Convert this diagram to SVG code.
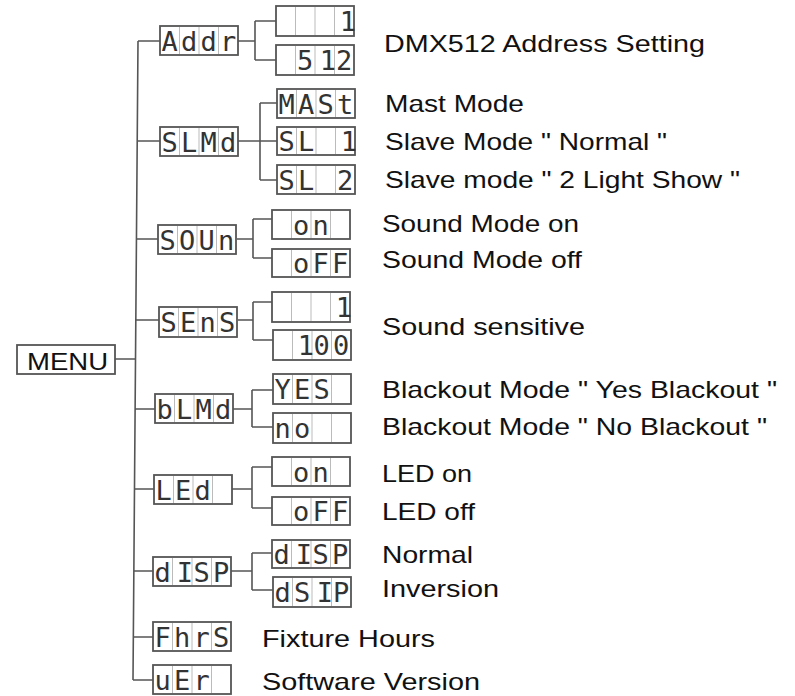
<svg xmlns="http://www.w3.org/2000/svg" width="795" height="696" viewBox="0 0 795 696">
<style>
.box{fill:#fff;stroke:#555;stroke-width:1.8}
.div{fill:none;stroke:#bbb;stroke-width:1}
.seg{font-family:"DejaVu Sans Mono",monospace;font-size:27px;fill:#333;text-anchor:middle}
.lbl{font-family:"Liberation Sans",Arial,sans-serif;font-size:24px;fill:#111}
.con{fill:none;stroke:#555;stroke-width:1.6}
</style>
<rect width="795" height="696" fill="#fff"/>
<g id="connectors" class="con">
<path d="M138 41L133 680M115 359H135.5M138 41H160M137.2 141H160M136.5 239H158M135.8 320H159M135.1 409H155M134.5 489H154M133.9 571H153M133.3 637H153M133 680H153"/>
<path d="M238 41H255M255 21V60M255 21H276M255 60H276"/>
<path d="M238 141H277M260 103V180M260 103H277M260 180H277"/>
<path d="M237 239H253M253 219V258M253 219H272M253 258H272"/>
<path d="M238 320H253M253 302V340M253 302H272M253 340H273"/>
<path d="M233 409H252M252 390V427M252 390H273M252 427H273"/>
<path d="M232 489H252M252 467V508M252 467H272M252 508H272"/>
<path d="M231 571H252M252 553V590M252 553H272M252 590H273"/>
</g>
<g id="menu"><rect class="box" x="17" y="345" width="98" height="29"/><text class="lbl" x="27" y="370" font-size="25" textLength="81" lengthAdjust="spacingAndGlyphs">MENU</text></g>

<g id="addr"><rect class="box" x="160" y="26" width="78" height="29"/><path class="div" d="M179.5 27v27M199 27v27M218.5 27v27"/><text class="seg" x="169.75 189.25 208.75 228.25" y="50.5">Addr</text></g>
<g id="slmd"><rect class="box" x="160" y="127" width="78" height="29"/><path class="div" d="M179.5 128v27M199 128v27M218.5 128v27"/><text class="seg" x="169.75 189.25 208.75 228.25" y="151.5">SLMd</text></g>
<g id="soun"><rect class="box" x="158" y="225" width="78" height="29"/><path class="div" d="M177.5 226v27M197 226v27M216.5 226v27"/><text class="seg" x="167.75 187.25 206.75 226.25" y="249.5">SOUn</text></g>
<g id="sens"><rect class="box" x="159" y="307" width="78" height="30"/><path class="div" d="M178.5 308v28M198 308v28M217.5 308v28"/><text class="seg" x="168.75 188.25 207.75 227.25" y="332">SEnS</text></g>
<g id="blmd"><rect class="box" x="155" y="394" width="78" height="29"/><path class="div" d="M174.5 395v27M194 395v27M213.5 395v27"/><text class="seg" x="164.75 184.25 203.75 223.25" y="418.5">bLMd</text></g>
<g id="led"><rect class="box" x="154" y="475" width="78" height="29"/><path class="div" d="M173.5 476v27M193 476v27M212.5 476v27"/><text class="seg" x="163.75 183.25 202.75" y="499.5">LEd</text></g>
<g id="disp"><rect class="box" x="153" y="557" width="78" height="29"/><path class="div" d="M172.5 558v27M192 558v27M211.5 558v27"/><text class="seg" x="162.75 185 201.75 221.25" y="581.5">dISP</text></g>
<g id="fhrs"><rect class="box" x="153" y="622" width="78" height="29"/><path class="div" d="M172.5 623v27M192 623v27M211.5 623v27"/><text class="seg" x="162.75 182.25 201.75 221.25" y="646.5">FhrS</text></g>
<g id="uer"><rect class="box" x="153" y="665" width="78" height="29"/><path class="div" d="M172.5 666v27M192 666v27M211.5 666v27"/><text class="seg" x="162.75 182.25 201.75" y="689.5">uEr</text></g>

<g id="addr-1"><rect class="box" x="276" y="6" width="78" height="30"/><path class="div" d="M295.5 7v28M315 7v28M334.5 7v28"/><text class="seg" x="348" y="31">1</text></g>
<g id="addr-512"><rect class="box" x="276" y="45" width="78" height="30"/><path class="div" d="M295.5 46v28M315 46v28M334.5 46v28"/><text class="seg" x="305.25 328 344.25" y="70">512</text></g>
<g id="mast"><rect class="box" x="277" y="89" width="78" height="29"/><path class="div" d="M296.5 90v27M316 90v27M335.5 90v27"/><text class="seg" x="286.75 306.25 325.75 345.25" y="113.5">MASt</text></g>
<g id="sl1"><rect class="box" x="277" y="127" width="78" height="28"/><path class="div" d="M296.5 128v26M316 128v26M335.5 128v26"/><text class="seg" x="286.75 306.25 325.75 349" y="151">SL 1</text></g>
<g id="sl2"><rect class="box" x="277" y="165" width="78" height="29"/><path class="div" d="M296.5 166v27M316 166v27M335.5 166v27"/><text class="seg" x="286.75 306.25 325.75 345.25" y="189.5">SL 2</text></g>
<g id="soun-on"><rect class="box" x="272" y="210" width="78" height="29"/><path class="div" d="M291.5 211v27M311 211v27M330.5 211v27"/><text class="seg" x="301.25 320.75" y="234.5">on</text></g>
<g id="soun-off"><rect class="box" x="272" y="249" width="78" height="28"/><path class="div" d="M291.5 250v26M311 250v26M330.5 250v26"/><text class="seg" x="301.25 320.75 340.25" y="273">oFF</text></g>
<g id="sens-1"><rect class="box" x="272" y="292" width="78" height="30"/><path class="div" d="M291.5 293v28M311 293v28M330.5 293v28"/><text class="seg" x="344" y="317">1</text></g>
<g id="sens-100"><rect class="box" x="273" y="330" width="78" height="30"/><path class="div" d="M292.5 331v28M312 331v28M331.5 331v28"/><text class="seg" x="306 321.75 341.25" y="355">100</text></g>
<g id="yes"><rect class="box" x="273" y="374" width="78" height="30"/><path class="div" d="M292.5 375v28M312 375v28M331.5 375v28"/><text class="seg" x="282.75 302.25 321.75" y="399">YES</text></g>
<g id="no"><rect class="box" x="273" y="413" width="78" height="30"/><path class="div" d="M292.5 414v28M312 414v28M331.5 414v28"/><text class="seg" x="282.75 302.25" y="438">no</text></g>
<g id="led-on"><rect class="box" x="272" y="457" width="78" height="29"/><path class="div" d="M291.5 458v27M311 458v27M330.5 458v27"/><text class="seg" x="301.25 320.75" y="481.5">on</text></g>
<g id="led-off"><rect class="box" x="272" y="497" width="78" height="28"/><path class="div" d="M291.5 498v26M311 498v26M330.5 498v26"/><text class="seg" x="301.25 320.75 340.25" y="521">oFF</text></g>
<g id="disp-normal"><rect class="box" x="272" y="540" width="78" height="28"/><path class="div" d="M291.5 541v26M311 541v26M330.5 541v26"/><text class="seg" x="281.75 304 320.75 340.25" y="564">dISP</text></g>
<g id="disp-inv"><rect class="box" x="273" y="577" width="78" height="30"/><path class="div" d="M292.5 578v28M312 578v28M331.5 578v28"/><text class="seg" x="282.75 302.25 325 341.25" y="602">dSIP</text></g>

<g id="labels">
<text class="lbl" x="384" y="52" textLength="321" lengthAdjust="spacingAndGlyphs">DMX512 Address Setting</text>
<text class="lbl" x="385" y="112" textLength="139" lengthAdjust="spacingAndGlyphs">Mast Mode</text>
<text class="lbl" x="385" y="150" textLength="282" lengthAdjust="spacingAndGlyphs">Slave Mode " Normal "</text>
<text class="lbl" x="385" y="188" textLength="355" lengthAdjust="spacingAndGlyphs">Slave mode " 2 Light Show "</text>
<text class="lbl" x="382" y="232" textLength="197" lengthAdjust="spacingAndGlyphs">Sound Mode on</text>
<text class="lbl" x="382" y="268" textLength="200" lengthAdjust="spacingAndGlyphs">Sound Mode off</text>
<text class="lbl" x="382" y="335" textLength="203" lengthAdjust="spacingAndGlyphs">Sound sensitive</text>
<text class="lbl" x="382" y="398" textLength="395" lengthAdjust="spacingAndGlyphs">Blackout Mode " Yes Blackout "</text>
<text class="lbl" x="382" y="435" textLength="385" lengthAdjust="spacingAndGlyphs">Blackout Mode " No Blackout "</text>
<text class="lbl" x="382" y="482" textLength="90" lengthAdjust="spacingAndGlyphs">LED on</text>
<text class="lbl" x="382" y="520" textLength="93" lengthAdjust="spacingAndGlyphs">LED off</text>
<text class="lbl" x="382" y="563" textLength="91" lengthAdjust="spacingAndGlyphs">Normal</text>
<text class="lbl" x="382" y="597" textLength="117" lengthAdjust="spacingAndGlyphs">Inversion</text>
<text class="lbl" x="262" y="647" textLength="173" lengthAdjust="spacingAndGlyphs">Fixture Hours</text>
<text class="lbl" x="262" y="690" textLength="218" lengthAdjust="spacingAndGlyphs">Software Version</text>
</g>
</svg>
